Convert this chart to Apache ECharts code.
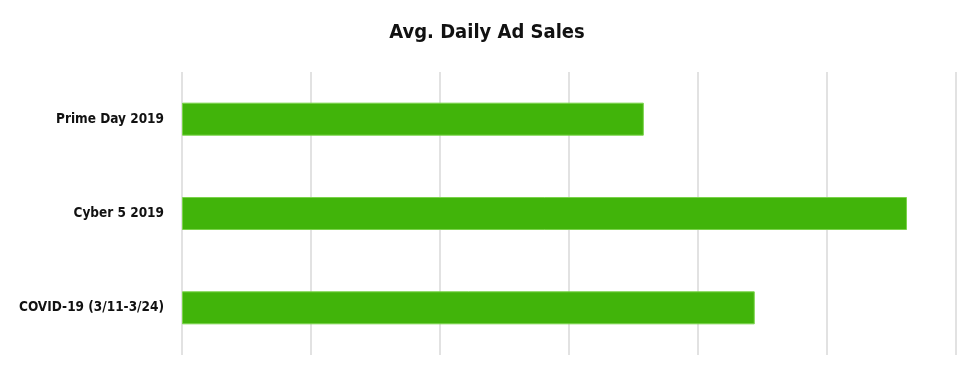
<!DOCTYPE html>
<html><head><meta charset="utf-8">
<script src="https://cdn.jsdelivr.net/npm/echarts@6/dist/echarts.min.js"></script>
<style>html,body{margin:0;padding:0;background:#fff}#c{width:974px;height:372px}</style>
</head><body><div id="c"></div>
<script>
const categories = ["Prime Day 2019", "Cyber 5 2019", "COVID-19 (3/11-3/24)"];
const values = [3.58, 5.62, 4.44];
const FONT = '"DejaVu Sans Condensed", "Noto Sans", sans-serif';
const chart = echarts.init(document.getElementById('c'), null, {renderer:'canvas'});
chart.setOption({
  animation:false,
  backgroundColor:'#fff',
  title:{text:'Avg. Daily Ad Sales', left:'center', top:18,
    textStyle:{fontFamily:FONT, fontWeight:'bold', fontSize:20, color:'#111'}},
  grid:{left:182, right:18, top:72, bottom:17, containLabel:false},
  xAxis:{type:'value', min:0, max:6, interval:1,
    axisLabel:{show:false}, axisLine:{show:false}, axisTick:{show:false},
    splitLine:{show:true, lineStyle:{color:'#d9d9d9', width:1.5}}},
  yAxis:{type:'category', data:categories, inverse:true,
    axisLine:{show:false}, axisTick:{show:false},
    axisLabel:{margin:18, fontFamily:FONT, fontWeight:'bold', fontSize:13.5, color:'#111'}},
  series:[{type:'bar', data:values, barWidth:33,
    itemStyle:{color:'#41b40a', borderColor:'#7ad34a', borderWidth:1}}]
});
</script></body></html>
